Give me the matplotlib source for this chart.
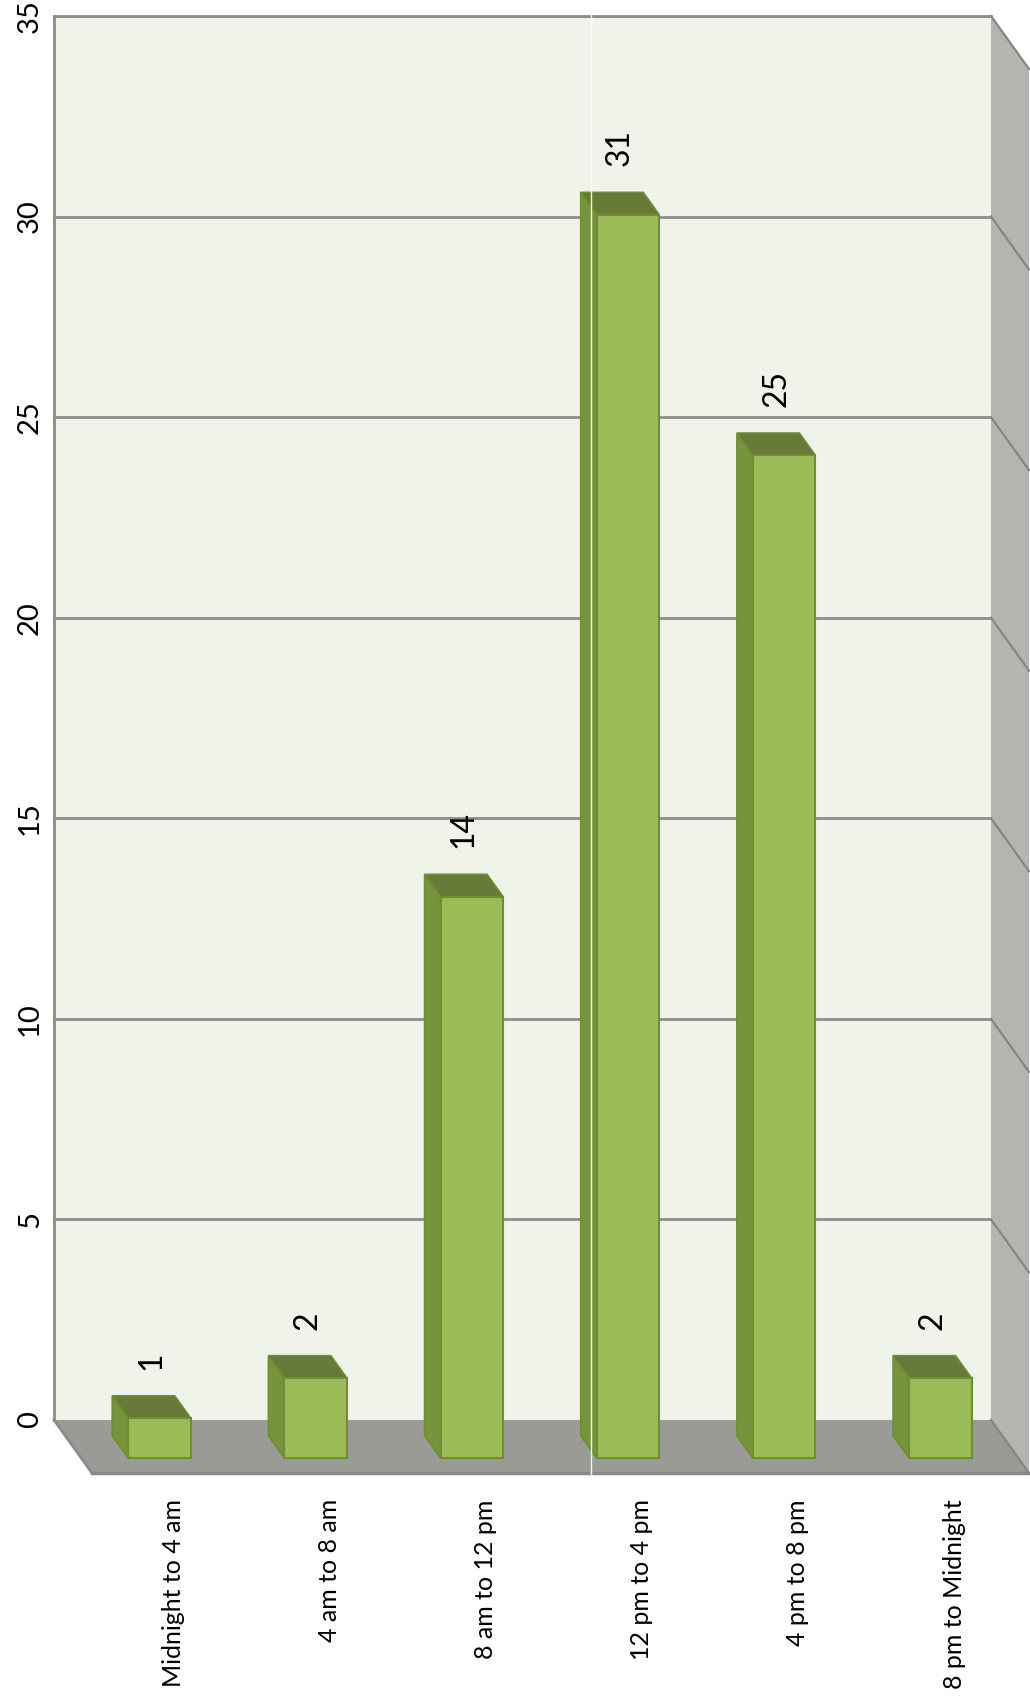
import matplotlib
matplotlib.use("Agg")
import matplotlib.pyplot as plt
from matplotlib.patches import Polygon
from matplotlib.lines import Line2D
import numpy as np

plt.rcParams['font.family'] = ['Lato', 'DejaVu Sans']

categories = ['Midnight to 4 am', '4 am to 8 am', '8 am to 12 pm',
              '12 pm to 4 pm', '4 pm to 8 pm', '8 pm to Midnight']
values = [1, 2, 14, 31, 25, 2]
labels = ['1', '2', '14', '31', '25', '2']
yticks = [0, 5, 10, 15, 20, 25, 30, 35]

W, H = 1030, 1697
fig = plt.figure(figsize=(W / 100, H / 100), dpi=100)

# back wall = the axes (pixel box of the wall)
left, right, top, bottom = 54, 991, 16, 1420
ax = fig.add_axes([left / W, 1 - bottom / H, (right - left) / W, (bottom - top) / H])
ax.set_xlim(-0.5, 5.5)
ax.set_ylim(0, 35)
ax.set_facecolor('#f0f3ea')

# depth vector of the floor (back -> front) in data units
px_x = (right - left) / 6.0      # px per category
px_y = (bottom - top) / 35.0     # px per unit
Dx, Dy = 38 / px_x, -53 / px_y

grid_c = '#8c8c8c'
for y in yticks[1:]:
    ax.axhline(y, color=grid_c, lw=2, zorder=1)
for s in ['top', 'right', 'bottom']:
    ax.spines[s].set_visible(False)
ax.spines['left'].set_color(grid_c)
ax.spines['left'].set_linewidth(2)
ax.plot([-0.5, 5.5], [35, 35], color=grid_c, lw=2, clip_on=False, zorder=2)

# floor
floor = Polygon([(-0.5, 0), (5.5, 0), (5.5 + Dx, Dy), (-0.5 + Dx, Dy)],
                closed=True, fc='#9a9b97', ec='none', clip_on=False, zorder=0.5)
ax.add_patch(floor)
ax.plot([-0.5, -0.5 + Dx], [0, Dy], color='#8a8a8a', lw=2, clip_on=False, zorder=0.6)
ax.plot([-0.5 + Dx, 5.5 + Dx], [Dy, Dy], color='#8a8a8a', lw=2.5, clip_on=False, zorder=0.6)

# right side wall
side = Polygon([(5.5, 0), (5.5, 35), (5.5 + Dx, 35 + Dy), (5.5 + Dx, Dy)],
               closed=True, fc='#b4b5b1', ec='none', clip_on=False, zorder=0.5)
ax.add_patch(side)
for y in yticks:
    ax.plot([5.5, 5.5 + Dx], [y, y + Dy], color='#858585', lw=1.6, clip_on=False, zorder=0.7)

# bars: front plane and back plane as fractions of the floor depth
ff, fb = 0.72, 0.30
w = 0.4
x = np.arange(len(values))
fx, fy = ff * Dx, ff * Dy
bx, by = fb * Dx, fb * Dy

ax.bar(x + fx, values, width=w, bottom=fy, color='#9bbb59', edgecolor='#6f8d33',
       linewidth=1.5, clip_on=False, zorder=5)
for xi, v in zip(x, values):
    x0f, x1f = xi - w / 2 + fx, xi + w / 2 + fx
    x0b, x1b = xi - w / 2 + bx, xi + w / 2 + bx
    side_face = Polygon([(x0f, fy), (x0f, fy + v), (x0b, by + v), (x0b, by)],
                        closed=True, fc='#77933c', ec='#6f8d33', lw=1.2,
                        clip_on=False, zorder=4)
    top_face = Polygon([(x0f, fy + v), (x1f, fy + v), (x1b, by + v), (x0b, by + v)],
                       closed=True, fc='#677a37', ec='#6f8d33', lw=1.2,
                       clip_on=False, zorder=4)
    ax.add_patch(side_face)
    ax.add_patch(top_face)

for xi, v, lab in zip(x, values, labels):
    ax.text(xi + 0.5 * (fx + bx), v + 0.25, lab, rotation=90, ha='center', va='bottom',
            fontsize=23, color='black', zorder=6, clip_on=False)

# thin white rendering seam seen in the source image
fig.add_artist(Line2D([591 / W, 591 / W], [1 - 1474 / H, 1.0], color='white',
                      lw=1, alpha=0.9, zorder=10))

# value axis labels
ax.set_yticks(yticks)
ax.set_yticklabels([str(t) for t in yticks], rotation=90, va='center', fontsize=21)
ax.tick_params(axis='y', length=0, pad=8)

# category labels on the floor front
ax.set_xticks(x + Dx + 0.02)
ax.set_xticklabels(categories, rotation=90, fontsize=18)
ax.tick_params(axis='x', length=0, pad=57)

fig.savefig('out.png', dpi=100)
